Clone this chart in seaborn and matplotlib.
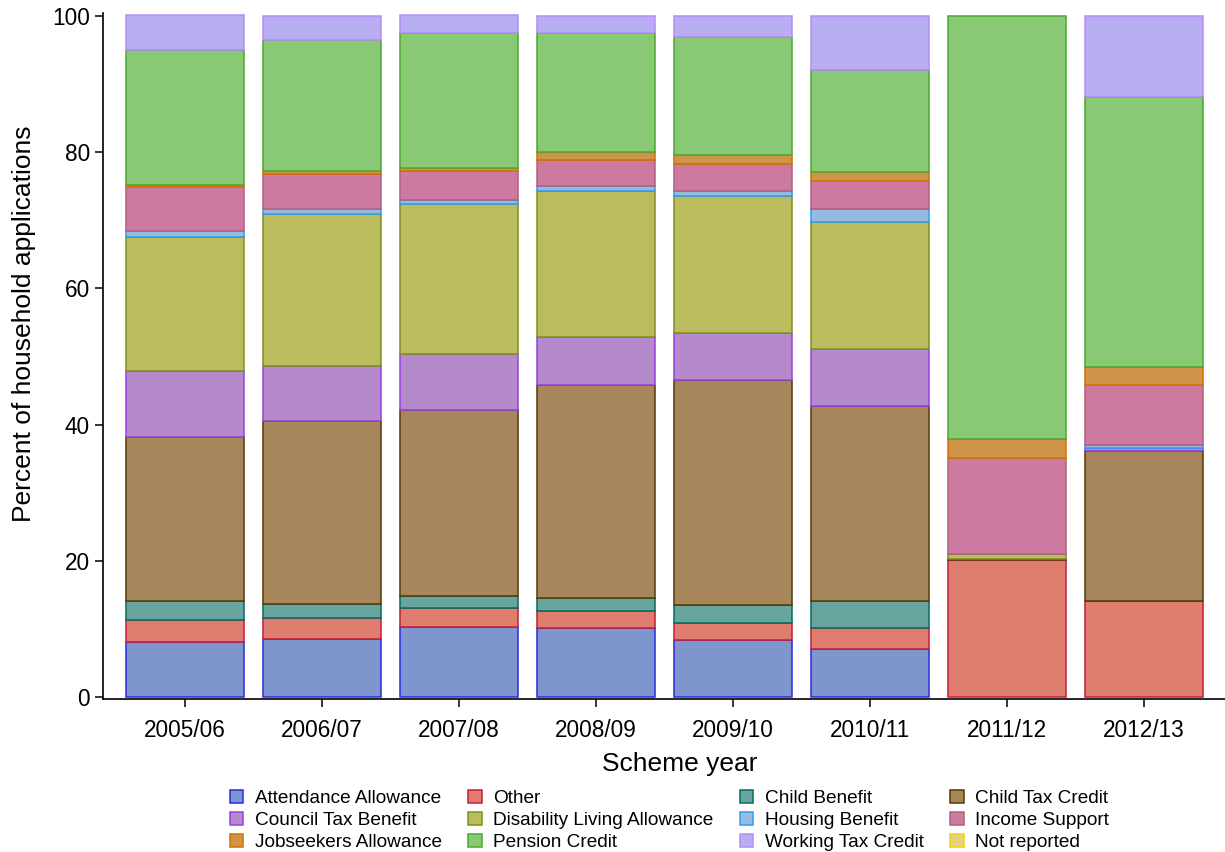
import numpy as np
import pandas as pd
import matplotlib
matplotlib.use("Agg")
import matplotlib.pyplot as plt
from matplotlib.patches import Patch
import seaborn as sns

# Scheme years on the x axis
years = ["2005/06", "2006/07", "2007/08", "2008/09",
         "2009/10", "2010/11", "2011/12", "2012/13"]

# Benefit categories, in stacking order (bottom to top)
categories = [
    "Attendance Allowance", "Other", "Child Benefit", "Child Tax Credit",
    "Council Tax Benefit", "Disability Living Allowance", "Housing Benefit",
    "Income Support", "Jobseekers Allowance", "Pension Credit",
    "Working Tax Credit", "Not reported",
]

# Percent of household applications per category and year
attendance_allowance = [8.13, 8.6, 10.25, 10.1, 8.4, 7.05, 0.0, 0.0]
other = [3.2, 3.0, 2.85, 2.5, 2.5, 3.15, 20.1, 14.2]
child_benefit = [2.8, 2.1, 1.7, 2.0, 2.7, 3.9, 0.0, 0.0]
child_tax_credit = [24.0, 26.9, 27.3, 31.2, 32.9, 28.7, 0.15, 22.0]
council_tax_benefit = [9.7, 8.0, 8.2, 7.1, 6.9, 8.3, 0.0, 0.4]
disability_living_allowance = [19.7, 22.3, 22.1, 21.4, 20.1, 18.6, 0.75, 0.0]
housing_benefit = [0.9, 0.8, 0.5, 0.65, 0.8, 2.0, 0.0, 0.4]
income_support = [6.4, 5.1, 4.35, 3.95, 4.0, 4.1, 14.15, 8.8]
jobseekers_allowance = [0.4, 0.4, 0.4, 1.05, 1.2, 1.3, 2.8, 2.7]
pension_credit = [19.75, 19.2, 19.8, 17.55, 17.4, 15.0, 62.05, 39.5]
working_tax_credit = [5.1, 3.6, 2.6, 2.5, 3.1, 7.9, 0.0, 12.0]
not_reported = [0.0, 0.0, 0.0, 0.0, 0.0, 0.0, 0.0, 0.0]

series = [
    attendance_allowance, other, child_benefit, child_tax_credit,
    council_tax_benefit, disability_living_allowance, housing_benefit,
    income_support, jobseekers_allowance, pension_credit,
    working_tax_credit, not_reported,
]

fills = ["#7E96CB", "#DF7D6F", "#68A59F", "#A8865B", "#B58ACB", "#BABC5E",
         "#95BCE0", "#CC7A9F", "#CE9448", "#89C875", "#B8AEF1", "#E3D47C"]
edges = ["#2B2BE0", "#C41E3A", "#006D5E", "#553808", "#9B3FE0", "#808F20",
         "#2D9CF5", "#B0607F", "#D37200", "#4CA830", "#B58DF5", "#F2D20A"]

df = pd.DataFrame({"year": years})
for name, vals in zip(categories, series):
    df[name] = vals

sns.set_style("ticks")
plt.rcParams["font.family"] = ["Liberation Sans", "DejaVu Sans"]
plt.rcParams["text.color"] = "black"
plt.rcParams["axes.labelcolor"] = "black"

fig = plt.figure(figsize=(12.25, 8.52), dpi=100)
ax = fig.add_axes([103 / 1225, 1 - 699 / 852, 1 - 103 / 1225, (699 - 12.7) / 852])

bottom = np.zeros(len(years))
for name, fc, ec in zip(categories, fills, edges):
    n_before = len(ax.patches)
    sns.barplot(data=df, x="year", y=name, order=years, bottom=bottom,
                color=fc, edgecolor=ec, linewidth=1.1, width=0.86,
                saturation=1, errorbar=None, ax=ax)
    for p in ax.patches[n_before:]:
        if p.get_height() == 0:
            p.set_visible(False)
    bottom = bottom + df[name].to_numpy()

ax.set_xlim(-0.6, 7.59)
ax.set_ylim(-0.25, 100.44)
ax.set_yticks([0, 20, 40, 60, 80, 100])

for side in ["top", "right"]:
    ax.spines[side].set_visible(False)
for side in ["left", "bottom"]:
    ax.spines[side].set_linewidth(1.2)
    ax.spines[side].set_color("black")

ax.tick_params(axis="both", labelsize=16.3, length=6, width=1.1,
               color="black", labelcolor="black")
ax.tick_params(axis="y", pad=3.5)
ax.tick_params(axis="x", pad=8.5)

ax.set_xlabel("Scheme year", fontsize=19)
ax.set_ylabel("Percent of household applications", fontsize=19)
ax.xaxis.set_label_coords((680 - 103) / 1122, (699 - 764) / 686.3)
ax.xaxis.label.set_va("center")
ax.yaxis.set_label_coords((24 - 103) / 1122, (699 - 324) / 686.3)
ax.yaxis.label.set_va("center")

# Legend laid out row by row in four columns
handles = [Patch(facecolor=fc, edgecolor=ec, linewidth=1.1)
           for fc, ec in zip(fills, edges)]
ncol, nrow = 4, 3
order = [r * ncol + c for c in range(ncol) for r in range(nrow)]
fig.legend([handles[i] for i in order], [categories[i] for i in order],
           ncol=ncol, loc="upper left",
           bbox_to_anchor=(230 / 1225, 1 - 790 / 852),
           frameon=False, fontsize=13.7, borderpad=0, borderaxespad=0,
           handlelength=0.7, handleheight=0.7, handletextpad=0.6,
           columnspacing=1.4, labelspacing=0.24)

fig.savefig("out.png", dpi=100)
